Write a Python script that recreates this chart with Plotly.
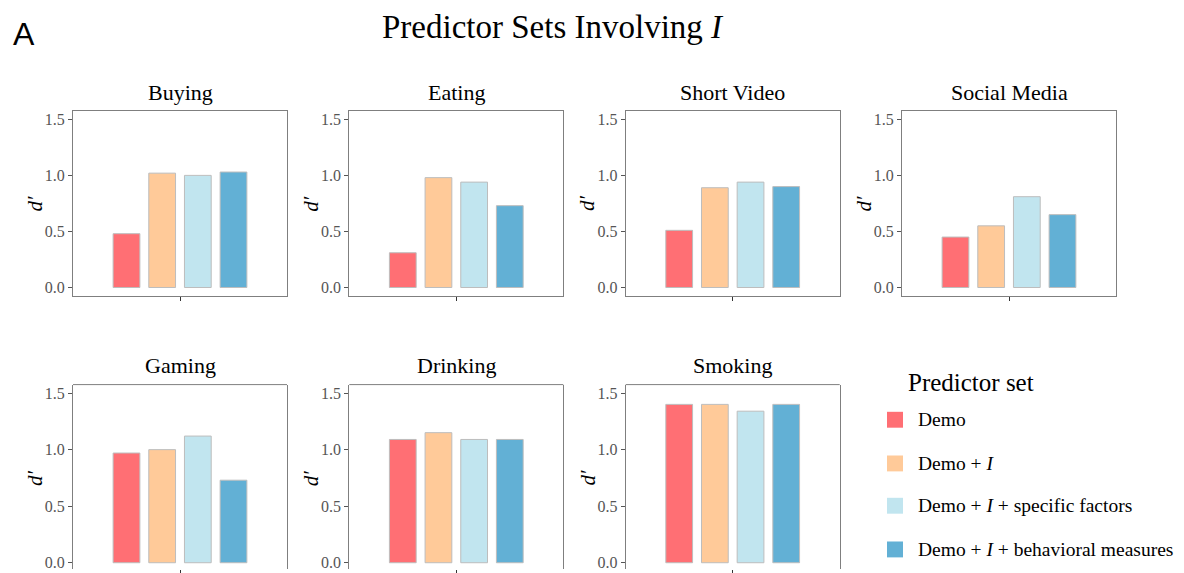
import plotly.graph_objects as go

W, H = 1184, 573

categories = ["Buying", "Eating", "Short Video", "Social Media", "Gaming", "Drinking", "Smoking"]
series_names = ["Demo", "Demo + <i>I</i>", "Demo + <i>I</i> + specific factors",
                "Demo + <i>I</i> + behavioral measures"]
demo = [0.48, 0.31, 0.51, 0.45, 0.97, 1.09, 1.40]
demo_i = [1.02, 0.98, 0.89, 0.55, 1.00, 1.15, 1.40]
demo_i_specific = [1.00, 0.94, 0.94, 0.81, 1.12, 1.09, 1.34]
demo_i_behavioral = [1.03, 0.73, 0.90, 0.65, 0.73, 1.09, 1.40]
series_values = [demo, demo_i, demo_i_specific, demo_i_behavioral]
colors = ["#FF6F74", "#FFCA99", "#C1E5EF", "#62B0D5"]
y_tickvals = [0, 0.5, 1.0, 1.5]
y_ticktext = ["0.0", "0.5", "1.0", "1.5"]
y_title = "<i>d′</i>"

SERIF = "Liberation Serif, Times New Roman, serif"

def px_x(p):
    return p / W

def px_y(p):
    return 1 - p / H

panel_left = [73, 349.3, 625.7, 902]
panel_w = 214
top_row = (111.7, 298)
bot_row = (387.3, 573)

fig = go.Figure()
layout = dict(
    width=W, height=H, margin=dict(l=0, r=0, t=0, b=0),
    paper_bgcolor="white", plot_bgcolor="white",
    barmode="group", bargap=0.2, bargroupgap=0.25,
    showlegend=False, font=dict(family=SERIF),
)
annotations = []
shapes = []

for i, cat in enumerate(categories):
    row = 0 if i < 4 else 1
    col = i if i < 4 else i - 4
    n = i + 1
    xa = "x" if n == 1 else f"x{n}"
    ya = "y" if n == 1 else f"y{n}"
    for s, vals in enumerate(series_values):
        fig.add_trace(go.Bar(
            x=[cat], y=[vals[i]], name=series_names[s],
            marker=dict(color=colors[s], line=dict(color="#BDBDBD", width=1)),
            xaxis=xa, yaxis=ya, showlegend=False,
        ))
    x0 = panel_left[col]
    x1 = x0 + panel_w
    t, b = top_row if row == 0 else bot_row
    xdom = [px_x(x0), px_x(x1)]
    ydom = [px_y(b), px_y(t)]
    yrange = [-0.075, 1.575] if row == 0 else [-0.0553, 1.575]
    xkey = "xaxis" if n == 1 else f"xaxis{n}"
    ykey = "yaxis" if n == 1 else f"yaxis{n}"
    layout[xkey] = dict(
        domain=xdom, anchor=ya, type="category", range=[-0.6, 0.6],
        showline=(row == 0), linecolor="#7F7F7F", linewidth=1, mirror=True,
        ticks="outside", ticklen=4, tickcolor="#333333", tickwidth=1,
        showticklabels=False, showgrid=False, zeroline=False, fixedrange=True,
    )
    layout[ykey] = dict(
        domain=ydom, anchor=xa, range=yrange,
        tickvals=y_tickvals, ticktext=y_ticktext,
        tickfont=dict(family=SERIF, size=16, color="#555555"),
        ticks="outside", ticklen=4, tickcolor="#555555", tickwidth=1,
        showline=True, linecolor="#7F7F7F", linewidth=1, mirror=True,
        showgrid=False, zeroline=False,
    )
    # y-axis title placed next to the tick labels
    annotations.append(dict(
        text=y_title, x=px_x(x0 - 38), y=0.75, xref="paper", yref=ya,
        xanchor="center", yanchor="middle", textangle=-90, showarrow=False,
        font=dict(family=SERIF, size=21, color="black"),
    ))
    if row == 1:
        shapes.append(dict(type="line", xref=f"{xa} domain", yref=f"{ya} domain",
                           x0=0, x1=1, y0=1, y1=1, line=dict(color="#7F7F7F", width=1)))
    title_y = 92.7 if row == 0 else 368.3
    annotations.append(dict(
        text=cat, x=px_x((x0 + x1) / 2), y=px_y(title_y), xref="paper", yref="paper",
        xanchor="center", yanchor="middle", showarrow=False,
        font=dict(family=SERIF, size=22, color="black"),
    ))

# main title and panel label
annotations.append(dict(text="Predictor Sets Involving <i>I</i>", x=px_x(553), y=px_y(27),
                        xref="paper", yref="paper", xanchor="center", yanchor="middle",
                        showarrow=False, font=dict(family=SERIF, size=33, color="black")))
annotations.append(dict(text="A", x=px_x(24), y=px_y(34), xref="paper", yref="paper",
                        xanchor="center", yanchor="middle", showarrow=False,
                        font=dict(family="Liberation Sans, Arial, sans-serif", size=32, color="black")))

# legend
annotations.append(dict(text="Predictor set", x=px_x(906), y=px_y(385), xref="paper", yref="paper",
                        xanchor="left", yanchor="middle", showarrow=False,
                        font=dict(family=SERIF, size=25, color="black")))
legend_y = [422.7, 466.7, 509.3, 553.3]
for s in range(4):
    cy = legend_y[s]
    shapes.append(dict(type="rect", xref="paper", yref="paper",
                       x0=px_x(887), x1=px_x(903), y0=px_y(cy + 8), y1=px_y(cy - 8),
                       fillcolor=colors[s], line=dict(width=0)))
    annotations.append(dict(text=series_names[s], x=px_x(916), y=px_y(cy), xref="paper", yref="paper",
                            xanchor="left", yanchor="middle", showarrow=False,
                            font=dict(family=SERIF, size=19.5, color="black")))

layout["annotations"] = annotations
layout["shapes"] = shapes
fig.update_layout(**layout)
fig.write_html("out.html", config={"displayModeBar": False},
               post_script="document.body.style.margin='0';document.body.style.overflow='hidden';")
